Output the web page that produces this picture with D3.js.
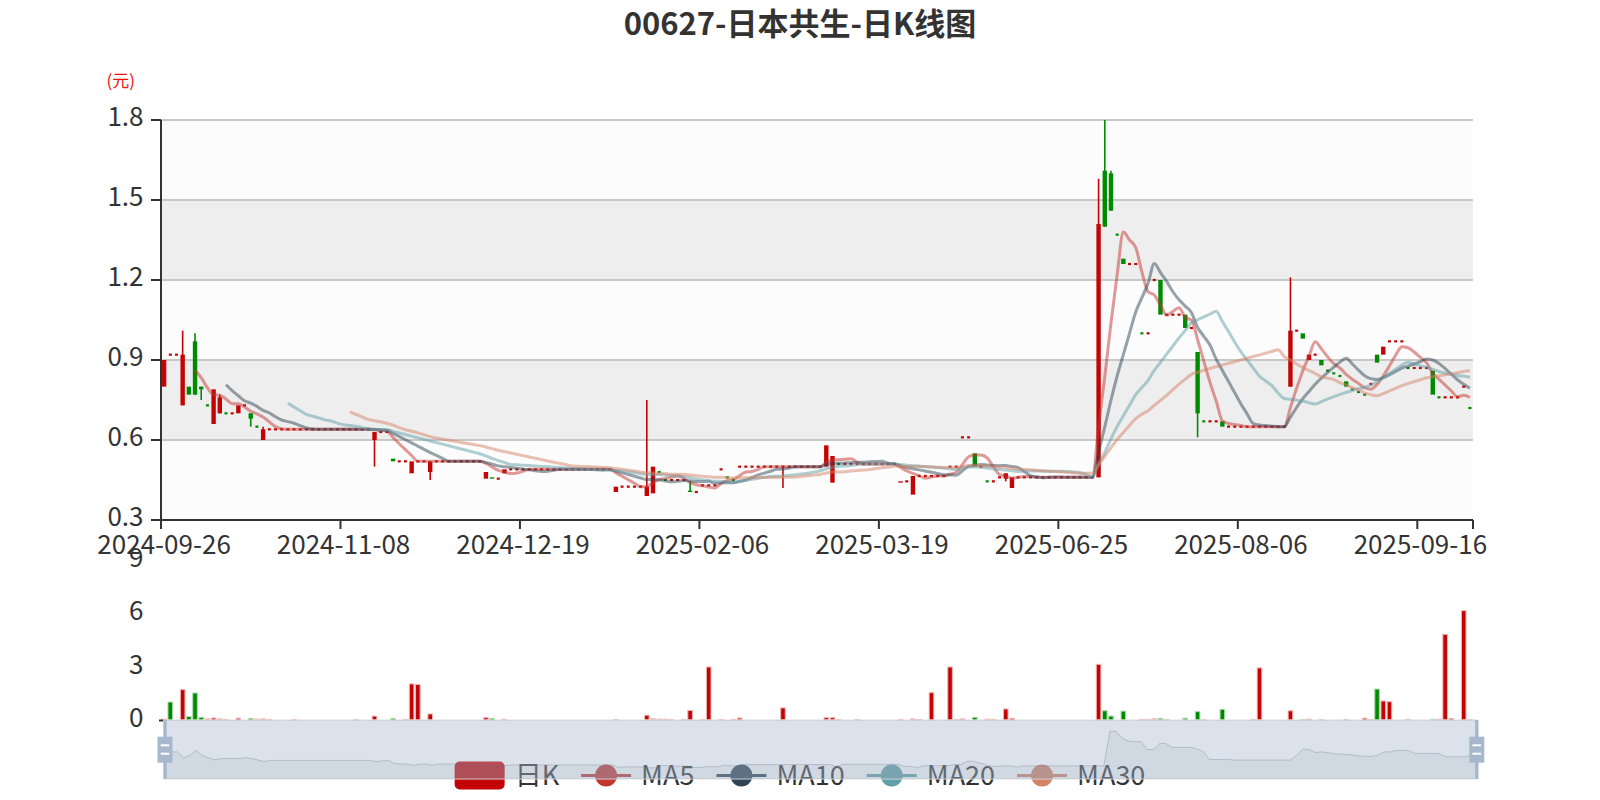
<!DOCTYPE html>
<html><head><meta charset="utf-8">
<script src="https://cdn.jsdelivr.net/npm/d3@7/dist/d3.min.js"></script>
<style>
html,body{margin:0;padding:0;background:#fff;}
svg{display:block;font-family:"Noto Sans CJK SC","Noto Sans",sans-serif;}
</style>
</head><body>
<svg id="chart" width="1600" height="800"></svg>
<script>
// ---------------- DATA ----------------
const titleText = "00627-日本共生-日K线图";
const unitText = "(元)";
const dates = [
"2024-09-26","2024-09-27","2024-09-30","2024-10-02","2024-10-03","2024-10-04","2024-10-07","2024-10-08","2024-10-09","2024-10-10",
"2024-10-14","2024-10-15","2024-10-16","2024-10-17","2024-10-18","2024-10-21","2024-10-22","2024-10-23","2024-10-24","2024-10-25",
"2024-10-28","2024-10-29","2024-10-30","2024-10-31","2024-11-01","2024-11-04","2024-11-05","2024-11-06","2024-11-07","2024-11-08",
"2024-11-11","2024-11-12","2024-11-13","2024-11-14","2024-11-15","2024-11-18","2024-11-19","2024-11-20","2024-11-21","2024-11-22",
"2024-11-25","2024-11-26","2024-11-27","2024-11-28","2024-11-29","2024-12-02","2024-12-03","2024-12-04","2024-12-05","2024-12-06",
"2024-12-09","2024-12-10","2024-12-11","2024-12-12","2024-12-13","2024-12-16","2024-12-17","2024-12-18","2024-12-19","2024-12-20",
"2024-12-23","2024-12-24","2024-12-27","2024-12-30","2024-12-31","2025-01-02","2025-01-03","2025-01-06","2025-01-07","2025-01-08",
"2025-01-09","2025-01-10","2025-01-13","2025-01-14","2025-01-15","2025-01-16","2025-01-17","2025-01-20","2025-01-21","2025-01-22",
"2025-01-23","2025-01-24","2025-01-27","2025-01-28","2025-02-03","2025-02-04","2025-02-05","2025-02-06","2025-02-07","2025-02-10",
"2025-02-11","2025-02-12","2025-02-13","2025-02-14","2025-02-17","2025-02-18","2025-02-19","2025-02-20","2025-02-21","2025-02-24",
"2025-02-25","2025-02-26","2025-02-27","2025-02-28","2025-03-03","2025-03-04","2025-03-05","2025-03-06","2025-03-07","2025-03-10",
"2025-03-11","2025-03-12","2025-03-13","2025-03-14","2025-03-17","2025-03-18","2025-03-19","2025-03-20","2025-03-21","2025-03-24",
"2025-03-25","2025-03-26","2025-03-27","2025-03-28","2025-03-31","2025-04-01","2025-04-02","2025-04-03","2025-04-07","2025-04-08",
"2025-04-09","2025-04-10","2025-04-11","2025-04-14","2025-04-15","2025-04-16","2025-04-17","2025-04-22","2025-04-23","2025-04-24",
"2025-04-25","2025-04-28","2025-04-29","2025-04-30","2025-05-02","2025-06-25","2025-06-26","2025-06-27","2025-06-30","2025-07-02",
"2025-07-03","2025-07-04","2025-07-07","2025-07-08","2025-07-09","2025-07-10","2025-07-11","2025-07-14","2025-07-15","2025-07-16",
"2025-07-17","2025-07-18","2025-07-21","2025-07-22","2025-07-23","2025-07-24","2025-07-25","2025-07-28","2025-07-29","2025-07-30",
"2025-07-31","2025-08-01","2025-08-04","2025-08-05","2025-08-06","2025-08-07","2025-08-08","2025-08-11","2025-08-12","2025-08-13",
"2025-08-14","2025-08-15","2025-08-18","2025-08-19","2025-08-20","2025-08-21","2025-08-22","2025-08-25","2025-08-26","2025-08-27",
"2025-08-28","2025-08-29","2025-09-01","2025-09-02","2025-09-03","2025-09-04","2025-09-05","2025-09-08","2025-09-09","2025-09-10",
"2025-09-11","2025-09-12","2025-09-15","2025-09-16","2025-09-17","2025-09-18","2025-09-19","2025-09-22","2025-09-23","2025-09-24",
"2025-09-25","2025-09-26"
];
// [open, close, lowest, highest]
const kData = [
[0.80,0.90,0.80,0.90],[0.92,0.92,0.92,0.92],[0.92,0.92,0.92,0.92],[0.73,0.92,0.73,1.01],[0.80,0.77,0.77,0.80],
[0.97,0.77,0.77,1.00],[0.80,0.79,0.75,0.80],[0.73,0.73,0.73,0.73],[0.66,0.79,0.66,0.79],[0.70,0.76,0.70,0.77],
[0.70,0.70,0.70,0.70],[0.70,0.70,0.70,0.70],[0.70,0.73,0.70,0.73],[0.73,0.73,0.73,0.73],[0.70,0.68,0.65,0.70],
[0.65,0.65,0.65,0.65],[0.60,0.64,0.60,0.65],[0.64,0.64,0.64,0.64],[0.64,0.64,0.64,0.64],[0.64,0.64,0.64,0.64],
[0.64,0.64,0.64,0.64],[0.64,0.64,0.64,0.64],[0.64,0.64,0.64,0.64],[0.64,0.64,0.64,0.64],[0.64,0.64,0.64,0.64],
[0.64,0.64,0.64,0.64],[0.64,0.64,0.64,0.64],[0.64,0.64,0.64,0.64],[0.64,0.64,0.64,0.64],[0.64,0.64,0.64,0.64],
[0.64,0.64,0.64,0.64],[0.64,0.64,0.64,0.64],[0.64,0.64,0.64,0.64],[0.64,0.64,0.64,0.64],[0.60,0.63,0.50,0.63],
[0.63,0.63,0.63,0.63],[0.63,0.63,0.63,0.63],[0.53,0.52,0.52,0.53],[0.52,0.52,0.52,0.52],[0.52,0.52,0.52,0.52],
[0.475,0.52,0.475,0.52],[0.52,0.52,0.52,0.52],[0.52,0.52,0.52,0.52],[0.48,0.52,0.45,0.52],[0.52,0.52,0.52,0.52],
[0.52,0.52,0.52,0.52],[0.52,0.52,0.52,0.52],[0.52,0.52,0.52,0.52],[0.52,0.52,0.52,0.52],[0.52,0.52,0.52,0.52],
[0.52,0.52,0.52,0.52],[0.52,0.52,0.52,0.52],[0.455,0.48,0.455,0.48],[0.46,0.455,0.455,0.46],[0.455,0.455,0.455,0.455],
[0.475,0.49,0.475,0.49],[0.49,0.49,0.49,0.49],[0.49,0.49,0.49,0.49],[0.49,0.49,0.49,0.49],[0.49,0.49,0.49,0.49],
[0.49,0.49,0.49,0.49],[0.49,0.49,0.49,0.49],[0.49,0.49,0.49,0.49],[0.49,0.49,0.49,0.49],[0.49,0.49,0.49,0.49],
[0.49,0.49,0.49,0.49],[0.49,0.49,0.49,0.49],[0.49,0.49,0.49,0.49],[0.49,0.49,0.49,0.49],[0.49,0.49,0.49,0.49],
[0.49,0.49,0.49,0.49],[0.49,0.49,0.49,0.49],[0.49,0.49,0.49,0.49],[0.405,0.425,0.405,0.425],[0.425,0.425,0.425,0.425],
[0.425,0.425,0.425,0.425],[0.425,0.425,0.425,0.425],[0.425,0.425,0.425,0.425],[0.39,0.425,0.39,0.75],[0.40,0.50,0.40,0.50],
[0.48,0.48,0.48,0.48],[0.45,0.45,0.45,0.45],[0.45,0.45,0.45,0.45],[0.45,0.45,0.45,0.45],[0.45,0.45,0.45,0.45],
[0.41,0.405,0.405,0.445],[0.405,0.405,0.405,0.405],[0.43,0.43,0.43,0.43],[0.43,0.43,0.43,0.43],[0.43,0.43,0.43,0.43],
[0.49,0.49,0.49,0.49],[0.46,0.46,0.46,0.46],[0.45,0.45,0.45,0.45],[0.50,0.50,0.50,0.50],[0.50,0.50,0.50,0.50],
[0.50,0.50,0.50,0.50],[0.50,0.50,0.50,0.50],[0.50,0.50,0.50,0.50],[0.50,0.50,0.50,0.50],[0.50,0.50,0.50,0.50],
[0.50,0.50,0.42,0.50],[0.50,0.50,0.50,0.50],[0.50,0.50,0.50,0.50],[0.50,0.50,0.50,0.50],[0.50,0.50,0.50,0.50],
[0.50,0.50,0.50,0.50],[0.50,0.50,0.50,0.50],[0.50,0.58,0.50,0.58],[0.44,0.54,0.44,0.54],[0.51,0.51,0.51,0.51],
[0.51,0.51,0.51,0.51],[0.51,0.51,0.51,0.51],[0.51,0.51,0.51,0.51],[0.51,0.51,0.51,0.51],[0.51,0.51,0.51,0.51],
[0.51,0.51,0.51,0.51],[0.51,0.51,0.51,0.51],[0.51,0.51,0.51,0.51],[0.51,0.51,0.51,0.51],[0.44,0.445,0.44,0.445],
[0.445,0.445,0.445,0.445],[0.395,0.465,0.395,0.465],[0.465,0.465,0.465,0.465],[0.465,0.465,0.465,0.465],[0.465,0.465,0.465,0.465],
[0.465,0.465,0.465,0.465],[0.465,0.465,0.465,0.465],[0.50,0.50,0.50,0.50],[0.50,0.50,0.50,0.50],[0.61,0.61,0.61,0.61],
[0.61,0.61,0.61,0.61],[0.55,0.50,0.50,0.55],[0.50,0.50,0.50,0.50],[0.445,0.445,0.445,0.445],[0.445,0.445,0.445,0.445],
[0.46,0.46,0.46,0.46],[0.455,0.475,0.445,0.475],[0.42,0.46,0.42,0.46],[0.46,0.46,0.46,0.46],[0.46,0.46,0.46,0.46],
[0.46,0.46,0.46,0.46],[0.46,0.46,0.46,0.46],[0.46,0.46,0.46,0.46],[0.46,0.46,0.46,0.46],[0.46,0.46,0.46,0.46],
[0.46,0.46,0.46,0.46],[0.46,0.46,0.46,0.46],[0.46,0.46,0.46,0.46],[0.46,0.46,0.46,0.46],[0.46,0.46,0.46,0.46],
[0.46,0.46,0.46,0.46],[0.46,1.41,0.46,1.58],[1.61,1.40,1.40,1.80],[1.60,1.46,1.46,1.61],[1.37,1.37,1.37,1.37],
[1.28,1.26,1.26,1.28],[1.26,1.26,1.26,1.26],[1.26,1.26,1.26,1.26],[1.00,1.00,1.00,1.00],[1.00,1.00,1.00,1.00],
[1.20,1.20,1.20,1.20],[1.20,1.07,1.07,1.20],[1.07,1.07,1.07,1.07],[1.07,1.07,1.07,1.07],[1.07,1.07,1.07,1.07],
[1.07,1.02,1.02,1.07],[1.02,1.02,1.02,1.02],[0.93,0.70,0.61,0.93],[0.67,0.67,0.67,0.67],[0.67,0.67,0.67,0.67],
[0.67,0.67,0.67,0.67],[0.67,0.65,0.65,0.67],[0.65,0.65,0.65,0.65],[0.65,0.65,0.65,0.65],[0.65,0.65,0.65,0.65],
[0.65,0.65,0.65,0.65],[0.65,0.65,0.65,0.65],[0.65,0.65,0.65,0.65],[0.65,0.65,0.65,0.65],[0.65,0.65,0.65,0.65],
[0.65,0.65,0.65,0.65],[0.65,0.65,0.65,0.65],[0.80,1.01,0.80,1.21],[1.01,1.01,1.01,1.01],[1.00,0.98,0.98,1.00],
[0.90,0.92,0.90,0.92],[0.92,0.92,0.92,0.92],[0.90,0.88,0.88,0.90],[0.86,0.86,0.86,0.86],[0.85,0.85,0.85,0.85],
[0.84,0.84,0.84,0.84],[0.82,0.80,0.80,0.82],[0.79,0.79,0.79,0.79],[0.78,0.78,0.78,0.78],[0.77,0.77,0.77,0.77],
[0.81,0.81,0.81,0.81],[0.92,0.89,0.89,0.92],[0.92,0.95,0.92,0.95],[0.97,0.97,0.97,0.97],[0.97,0.97,0.97,0.97],
[0.97,0.97,0.97,0.97],[0.87,0.87,0.87,0.87],[0.87,0.87,0.87,0.87],[0.87,0.87,0.87,0.87],[0.87,0.87,0.87,0.87],
[0.86,0.77,0.77,0.86],[0.76,0.76,0.76,0.76],[0.76,0.76,0.76,0.76],[0.76,0.76,0.76,0.76],[0.76,0.76,0.76,0.76],
[0.80,0.80,0.80,0.80],[0.72,0.72,0.72,0.72]
];
// volume (daily)
const volumes = [
0.05,1.01,0,1.71,0.19,1.52,0.15,0.06,0.11,0.06,
0.03,0,0.10,0,0.09,0.05,0.06,0.03,0,0,
0,0.02,0,0,0,0,0,0,0,0,
0,0.02,0,0,0.22,0,0,0.09,0,0.02,
2.03,2.00,0,0.34,0,0,0,0,0,0,
0,0,0.13,0.09,0,0.04,0,0,0,0,
0,0,0,0,0,0,0,0,0,0,
0,0,0,0.02,0,0,0,0,0.27,0.06,
0.05,0.05,0.02,0,0.02,0.54,0,0.02,2.98,0,
0.02,0,0.02,0.11,0,0,0,0,0,0,
0.68,0,0,0,0,0,0,0.13,0.13,0.03,
0,0,0.02,0,0,0,0,0,0,0.02,
0,0.06,0.02,0,1.54,0,0,2.98,0.02,0.06,
0,0.15,0,0.05,0.04,0,0.62,0.09,0,0,
0,0,0,0,0,0,0,0,0,0,
0,3.13,0.52,0.22,0,0.50,0,0,0.03,0.03,
0.06,0.09,0.02,0,0,0.10,0,0.47,0.02,0,
0,0.60,0,0,0,0,0.02,2.93,0,0,
0,0,0.52,0,0.02,0.05,0,0.02,0,0,
0,0.02,0,0,0.10,0.02,1.74,1.07,1.03,0,
0,0.04,0,0,0,0.04,0.05,4.82,0.08,0,
6.15,0.02
];
// indices of volume bars drawn in the "down" colour
const volumeDownIdx = [1,4,5,6,14,37,53,131,152,153,155,161,165,167,171,184,187,191,196,205];
const yTicks = [0.3,0.6,0.9,1.2,1.5,1.8];
const volTicks = [0,3,6,9];
const labelInterval = 29;
const maDays = [5,10,20,30];
const legendNames = ["日K","MA5","MA10","MA20","MA30"];

// ---------------- STYLE ----------------
const upColor = "#c40404", downColor = "#008a00";
const maColors = ["#c23531","#2f4554","#61a0a8","#d48265"];
const gridL = 161, gridR = 1473, mainTop = 120, mainBot = 520, volTop = 560, volBot = 720;
const FONT = 26, LEG_FONT = 27;

const svg = d3.select("#chart");
const N = kData.length;
const x = d3.scaleBand().domain(d3.range(N)).range([gridL, gridR]);
const bw = x.bandwidth();
const cx = i => x(i) + bw / 2;
const y = d3.scaleLinear().domain([yTicks[0], yTicks[yTicks.length-1]]).range([mainBot, mainTop]);
const yv = d3.scaleLinear().domain([volTicks[0], volTicks[volTicks.length-1]]).range([volBot, volTop]);

// title
svg.append("text").attr("x", 800).attr("y", 35).attr("text-anchor","middle")
  .attr("font-size", 31).attr("font-weight","bold").attr("fill","#333").text(titleText);

// split areas
for (let k = 0; k < yTicks.length - 1; k++) {
  svg.append("rect").attr("x", gridL).attr("width", gridR - gridL)
    .attr("y", y(yTicks[k+1])).attr("height", y(yTicks[k]) - y(yTicks[k+1]))
    .attr("fill", k % 2 === 0 ? "#fcfcfc" : "#eeeeee");
}
// split lines
yTicks.slice(1).forEach(t => {
  svg.append("line").attr("x1", gridL).attr("x2", gridR).attr("y1", y(t)).attr("y2", y(t))
    .attr("stroke", "#c8c8c8").attr("stroke-width", 2);
});

// candles
function sign(i) {
  const [o, c] = kData[i];
  if (o > c) return -1;
  if (o < c) return 1;
  return i > 0 ? (kData[i-1][1] <= c ? 1 : -1) : 1;
}
const cg = svg.append("g");
kData.forEach((d, i) => {
  const [o, c, l, h] = d;
  const col = sign(i) > 0 ? upColor : downColor;
  const xc = cx(i);
  if (h > Math.max(o, c) || l < Math.min(o, c)) {
    cg.append("line").attr("x1", xc).attr("x2", xc).attr("y1", y(h)).attr("y2", y(l))
      .attr("stroke", col).attr("stroke-width", 1.6);
  }
  if (o === c) {
    cg.append("rect").attr("x", xc - 1.5).attr("width", 3).attr("y", y(c) - 1.1).attr("height", 2.2).attr("fill", col);
  } else {
    const top = y(Math.max(o, c)), bot = y(Math.min(o, c));
    cg.append("rect").attr("x", xc - 2.2).attr("width", 4.4).attr("y", top).attr("height", bot - top).attr("fill", col);
  }
});

// moving averages
function calculateMA(dayCount) {
  const res = [];
  for (let i = 0; i < N; i++) {
    if (i < dayCount) { res.push(null); continue; }
    let s = 0;
    for (let j = 0; j < dayCount; j++) s += kData[i - j][1];
    res.push(s / dayCount);
  }
  return res;
}
const lineGen = d3.line().defined(d => d.v !== null).x(d => cx(d.i)).y(d => y(d.v)).curve(d3.curveMonotoneX);
maDays.forEach((n, k) => {
  const ma = calculateMA(n).map((v, i) => ({i, v}));
  svg.append("path").attr("d", lineGen(ma)).attr("fill","none")
    .attr("stroke", maColors[k]).attr("stroke-width", 3).attr("stroke-opacity", 0.5)
    .attr("stroke-linejoin","round");
});

// main x axis
svg.append("line").attr("x1", gridL).attr("x2", gridR).attr("y1", mainBot).attr("y2", mainBot)
  .attr("stroke", "#333").attr("stroke-width", 2);
const tickIdx = d3.range(0, N, labelInterval);
tickIdx.forEach(i => {
  svg.append("line").attr("x1", x(i)).attr("x2", x(i)).attr("y1", mainBot).attr("y2", mainBot + 9)
    .attr("stroke", "#333").attr("stroke-width", 2);
  svg.append("text").attr("x", cx(i)).attr("y", 554).attr("text-anchor","middle")
    .attr("font-size", FONT).attr("fill", "#333").text(dates[i]);
});
svg.append("line").attr("x1", gridR).attr("x2", gridR).attr("y1", mainBot).attr("y2", mainBot + 9)
  .attr("stroke", "#333").attr("stroke-width", 2);

// main y axis
svg.append("line").attr("x1", gridL).attr("x2", gridL).attr("y1", mainTop).attr("y2", mainBot)
  .attr("stroke", "#333").attr("stroke-width", 2);
yTicks.forEach(t => {
  svg.append("line").attr("x1", gridL - 10).attr("x2", gridL).attr("y1", y(t)).attr("y2", y(t))
    .attr("stroke", "#333").attr("stroke-width", 2);
  svg.append("text").attr("x", 143.5).attr("y", y(t) + 5.5).attr("text-anchor","end")
    .attr("font-size", FONT).attr("fill", "#333").text(d3.format(".1f")(t));
});
svg.append("text").attr("x", 135).attr("y", 87).attr("text-anchor","end")
  .attr("font-size", 17).attr("fill", "#f01010").text(unitText);

// volume
volTicks.forEach(t => {
  svg.append("text").attr("x", 143.5).attr("y", yv(t) + 7).attr("text-anchor","end")
    .attr("font-size", FONT).attr("fill", "#333").text(t);
});
const downSet = new Set(volumeDownIdx);
volumes.forEach((v, i) => {
  if (!v) return;
  const down = downSet.has(i);
  svg.append("rect").attr("x", cx(i) - 2.3).attr("width", 4.6)
    .attr("y", yv(v)).attr("height", volBot - yv(v))
    .attr("fill", down ? downColor : upColor)
    .attr("stroke", down ? "#a8dca8" : "#f0b4b4").attr("stroke-width", 1);
});
svg.append("rect").attr("x", 159).attr("y", 719.5).attr("width", 4).attr("height", 2).attr("fill", "#333");

// legend
const legY = 775.5;
const lg = svg.append("g");
const items = legendNames.map((name, k) => {
  const g = lg.append("g");
  const t = g.append("text").attr("font-size", LEG_FONT).attr("fill", "#333").attr("y", legY + 9).text(name);
  return {g, t, w: t.node().getComputedTextLength(), k};
});
const iconW = 50, iconGap = 10, itemGap = 22;
const total = d3.sum(items, d => iconW + iconGap + d.w) + itemGap * (items.length - 1);
let lx = 800 - total / 2;
items.forEach(it => {
  if (it.k === 0) {
    it.g.append("rect").attr("x", lx).attr("y", legY - 14).attr("width", iconW).attr("height", 28)
      .attr("rx", 5).attr("fill", upColor);
  } else {
    const col = maColors[it.k - 1];
    it.g.append("line").attr("x1", lx).attr("x2", lx + iconW).attr("y1", legY).attr("y2", legY)
      .attr("stroke", col).attr("stroke-width", 3);
    it.g.append("circle").attr("cx", lx + iconW / 2).attr("cy", legY).attr("r", 11).attr("fill", col);
  }
  it.t.attr("x", lx + iconW + iconGap);
  lx += iconW + iconGap + it.w + itemGap;
});

// data zoom slider
const zL = 165, zR = 1476.8, zT = 720, zB = 779;
const opens = kData.map(d => d[0]);
let ext = d3.extent(opens);
const off = (ext[1] - ext[0]) * 0.3;
ext = [ext[0] - off, ext[1] + off];
const sx = d3.scaleLinear().domain([0, N - 1]).range([zL, zR]);
const sy = d3.scaleLinear().domain(ext).range([zB, zT]);
const zg = svg.append("g");
zg.append("rect").attr("x", zL).attr("y", zT).attr("width", zR - zL).attr("height", zB - zT)
  .attr("fill", "none").attr("stroke", "#dddddd").attr("stroke-width", 1);
const area = d3.area().x((d, i) => sx(i)).y0(zB).y1(d => sy(d));
zg.append("path").attr("d", area(opens)).attr("fill", "rgba(47,69,84,0.09)");
const sline = d3.line().x((d, i) => sx(i)).y(d => sy(d));
zg.append("path").attr("d", sline(opens)).attr("fill", "none").attr("stroke", "rgba(47,69,84,0.3)").attr("stroke-width", 1);
zg.append("rect").attr("x", zL).attr("y", zT).attr("width", zR - zL).attr("height", zB - zT)
  .attr("fill", "rgba(167,183,204,0.4)");
[zL, zR].forEach(hx => {
  zg.append("rect").attr("x", hx - 1.7).attr("y", zT).attr("width", 3.4).attr("height", zB - zT).attr("fill", "#a7b7cc");
  zg.append("rect").attr("x", hx - 7.5).attr("y", 736.7).attr("width", 15).attr("height", 26).attr("fill", "#a7b7cc");
  zg.append("rect").attr("x", hx - 4.3).attr("y", 744.3).attr("width", 8.6).attr("height", 2).attr("fill", "#fff");
  zg.append("rect").attr("x", hx - 4.3).attr("y", 752.7).attr("width", 8.6).attr("height", 2).attr("fill", "#fff");
});
</script>
</body></html>
